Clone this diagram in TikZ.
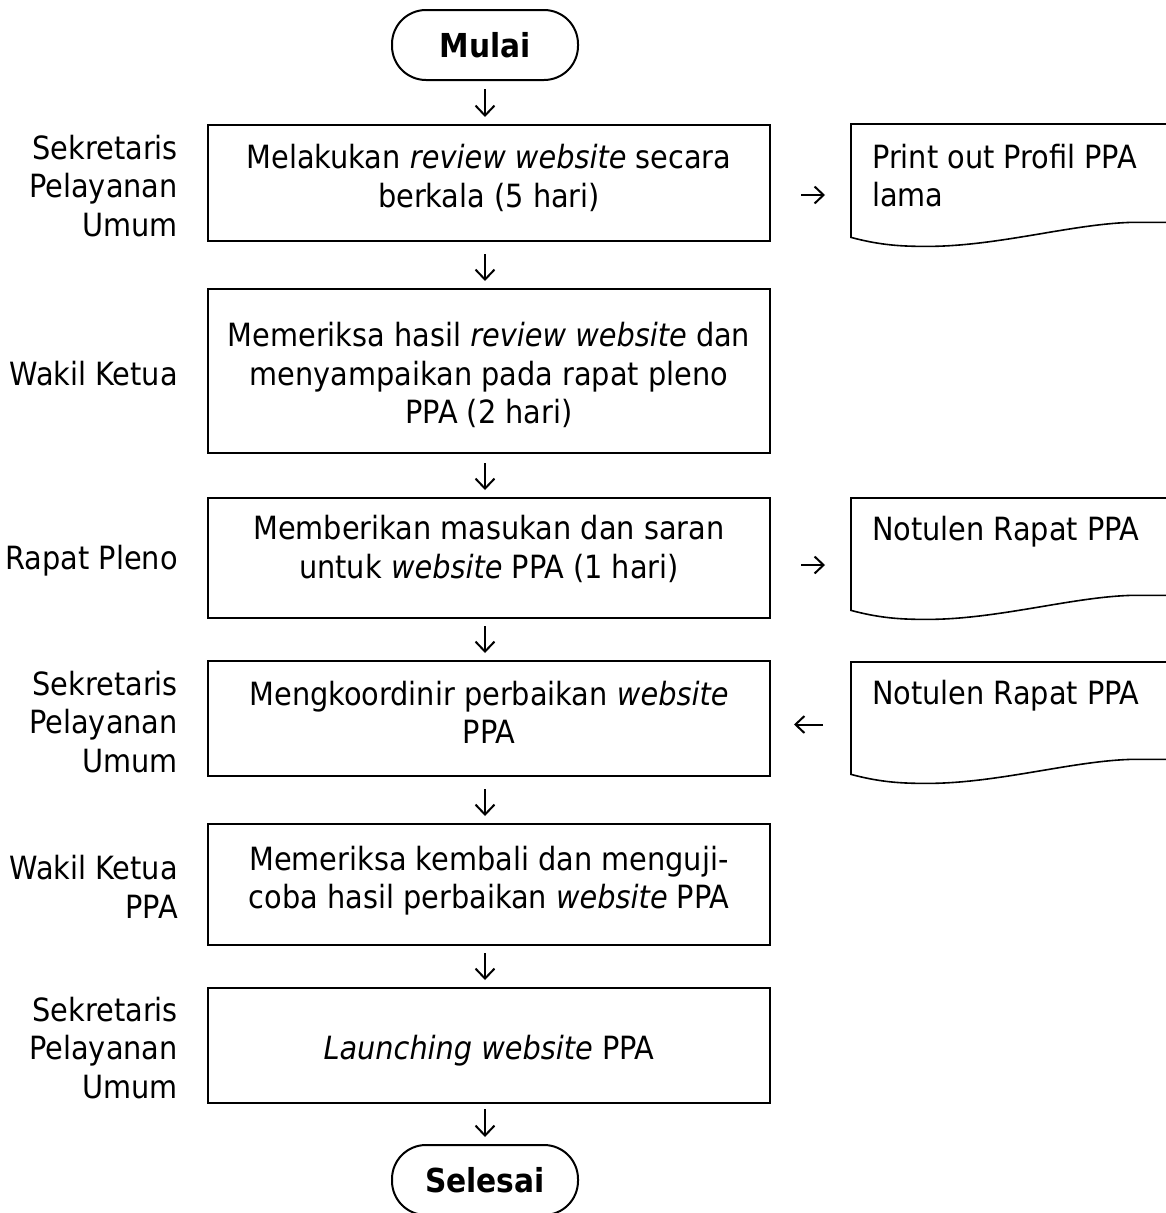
\documentclass[tikz,border=0pt]{standalone}
\usepackage{fontspec}
\setmainfont{DejaVu Sans Condensed}[ItalicFont={DejaVu Sans Condensed Oblique},BoldFont={DejaVu Sans Condensed Bold}]
\usetikzlibrary{arrows.meta}
\tikzset{
  txt/.style={font=\fontsize{32}{38.5}\selectfont},
  box/.style={draw, line width=2pt, minimum width=562pt, inner sep=0pt},
  boxtext/.style={align=center, inner sep=0pt, txt},
  term/.style={draw, line width=2pt, rounded corners=34pt, minimum width=186pt, minimum height=70pt, inner sep=0pt, font=\fontsize{33}{38.5}\selectfont\bfseries},
  lane/.style={anchor=east, align=right, inner sep=0pt, txt},
  doc/.style={minimum width=340pt, inner sep=0pt, anchor=north west},
  docline/.style={line width=1.6pt},
  doctext/.style={anchor=base west, inner sep=0pt, txt},
  varr/.style={line width=2pt, shorten >=7pt, -{Straight Barb[length=10pt,width=19pt,line width=2pt]}},
  harr/.style={line width=2pt, -{Straight Barb[length=9pt,width=17pt,line width=2pt]}}
}
\begin{document}
\begin{tikzpicture}[x=1pt,y=-1pt]
\useasboundingbox (0,0) rectangle (1166,1213);
\clip (0,0) rectangle (1166,1213);

% terminators
\node[term] (M) at (485,45) {Mulai};
\node[term] (S) at (485,1180) {Selesai};

% process boxes
\node[box, minimum height=116pt] (B1) at (489,183) {};
\node[box, minimum height=164pt] (B2) at (489,371) {};
\node[box, minimum height=120pt] (B3) at (489,558) {};
\node[box, minimum height=115pt] (B4) at (489,718.5) {};
\node[box, minimum height=121pt] (B5) at (489,884.5) {};
\node[box, minimum height=115pt] (B6) at (489,1045.5) {};

\node[boxtext] (B1t) at ([yshift=5pt]B1.center) {Melakukan \textit{review website} secara\\berkala (5 hari)};
\node[boxtext] (B2t) at ([yshift=-4pt]B2.center) {Memeriksa hasil \textit{review website} dan\\menyampaikan pada rapat pleno\\PPA (2 hari)};
\node[boxtext] (B3t) at ([yshift=9pt]B3.center) {Memberikan masukan dan saran\\untuk \textit{website} PPA (1 hari)};
\node[boxtext] (B4t) at ([yshift=6pt]B4.center) {Mengkoordinir perbaikan \textit{website}\\PPA};
\node[boxtext] (B5t) at ([yshift=4pt]B5.center) {Memeriksa kembali dan menguji-\\coba hasil perbaikan \textit{website} PPA};
\node[boxtext] (B6t) at ([yshift=-5pt]B6.center) {\textit{Launching website} PPA};

% lane labels
\node[lane] (L1) at (178,186) {Sekretaris\\Pelayanan\\Umum};
\node[lane] (L2) at (178,374) {Wakil Ketua};
\node[lane] (L3) at (178,561) {Rapat Pleno};
\node[lane] (L4) at (178,722) {Sekretaris\\Pelayanan\\Umum};
\node[lane] (L5) at (178,887) {Wakil Ketua\\PPA};
\node[lane] (L6) at (178,1048) {Sekretaris\\Pelayanan\\Umum};

% documents
\node[doc, minimum height=113pt] (D1) at (851,124) {};
\node[doc, minimum height=112pt] (D2) at (851,498) {};
\node[doc, minimum height=112pt] (D3) at (851,662) {};
\foreach \d in {D1,D2,D3}{
  \draw[docline] (\d.north east) -- (\d.north west) -- (\d.south west)
    .. controls +(30,8) and +(-25,0) .. ++(76,9)
    .. controls +(70,0) and +(-60,2) .. ++(203,-24) -- ++(61,0) -- cycle;
}
\node[doctext] (T1) at (872,168) {\begin{tabular}[t]{@{}l@{}}Print out Profil PPA\\lama\end{tabular}};
\node[doctext] (T2) at (872,540) {Notulen Rapat PPA};
\node[doctext] (T3) at (872,704) {Notulen Rapat PPA};

% vertical flow arrows
\draw[varr, shorten <=8pt]  (M.south) -- (M |- B1.north);
\draw[varr, shorten <=12pt] (M |- B1.south) -- (M |- B2.north);
\draw[varr, shorten <=9pt]  (M |- B2.south) -- (M |- B3.north);
\draw[varr, shorten <=7pt]  (M |- B3.south) -- (M |- B4.north);
\draw[varr, shorten <=12pt] (M |- B4.south) -- (M |- B5.north);
\draw[varr, shorten <=7pt]  (M |- B5.south) -- (M |- B6.north);
\draw[varr, shorten <=5pt]  (M |- B6.south) -- (S.north);

% horizontal arrows
\draw[harr, shorten <=30pt, shorten >=26pt] ([yshift=-12pt]B1.east) -- ([yshift=-12pt]B1.east -| D1.west);
\draw[harr, shorten <=30pt, shorten >=26pt] ([yshift=-7pt]B3.east) -- ([yshift=-7pt]B3.east -| D2.west);
\draw[harr, shorten <=28pt, shorten >=23pt] ([yshift=-6pt]B4.east -| D3.west) -- ([yshift=-6pt]B4.east);
\end{tikzpicture}
\end{document}
